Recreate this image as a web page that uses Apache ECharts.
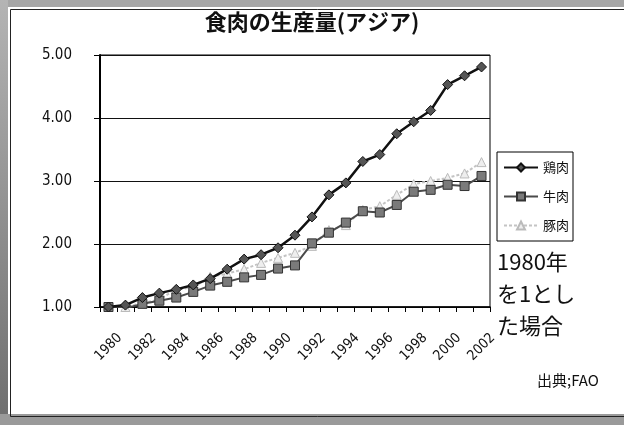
<!DOCTYPE html>
<html>
<head>
<meta charset="utf-8">
<script src="https://cdn.jsdelivr.net/npm/echarts@6/dist/echarts.min.js"></script>
<style>
  html, body { margin: 0; padding: 0; background: #fff; }
  #chart { width: 624px; height: 425px; }
</style>
</head>
<body>
<div id="chart"></div>
<script>
// 1980年を1とした指数
const years = ['1980','1981','1982','1983','1984','1985','1986','1987','1988','1989','1990','1991',
               '1992','1993','1994','1995','1996','1997','1998','1999','2000','2001','2002']
const chicken = [1.00,1.03,1.15,1.22,1.28,1.35,1.45,1.60,1.76,1.83,1.94,2.14,
                 2.43,2.78,2.97,3.31,3.42,3.75,3.94,4.12,4.53,4.67,4.81]
const beef = [1.00,0.98,1.05,1.10,1.15,1.24,1.34,1.40,1.47,1.51,1.61,1.66,
              2.01,2.18,2.34,2.52,2.50,2.62,2.83,2.86,2.94,2.92,3.08]
const pork = [1.00,1.00,1.06,1.12,1.28,1.31,1.48,1.53,1.60,1.70,1.78,1.86,
              1.97,2.22,2.30,2.54,2.60,2.78,2.95,3.00,3.05,3.12,3.30]
const yTicks = { min: 1, max: 5, step: 1 }

const numFont = 'Liberation Sans Narrow, DejaVu Sans Condensed, sans-serif'
const jpFont = 'Noto Sans CJK JP, sans-serif'

const chart = echarts.init(document.getElementById('chart'))

const option = {
  animation: false,
  backgroundColor: '#fff',
  title: {
    text: '食肉の生産量(アジア)',
    left: 'center',
    top: 6,
    textStyle: { fontFamily: jpFont, fontSize: 22, fontWeight: 'bold', color: '#111' }
  },
  legend: {
    orient: 'vertical',
    left: 497,
    top: 152,
    itemWidth: 34,
    itemHeight: 10,
    itemGap: 16,
    padding: [9, 4, 9, 6],
    borderColor: '#000',
    borderWidth: 1,
    textStyle: { fontFamily: jpFont, fontSize: 13, color: '#111' },
    data: ['鶏肉', '牛肉', '豚肉']
  },
  grid: { left: 100, right: 134, top: 55, bottom: 118, show: true, borderColor: '#000', borderWidth: 1 },
  xAxis: {
    type: 'category',
    data: years,
    boundaryGap: true,
    axisLine: { lineStyle: { color: '#000', width: 1.5 } },
    axisTick: { show: true, interval: 0, length: 5, lineStyle: { color: '#000' } },
    axisLabel: {
      interval: 1,
      rotate: 45,
      align: 'center',
      margin: 40,
      fontFamily: numFont,
      fontSize: 14,
      color: '#111'
    }
  },
  yAxis: {
    type: 'value',
    min: yTicks.min,
    max: yTicks.max,
    interval: yTicks.step,
    axisLine: { show: true, lineStyle: { color: '#000', width: 2 } },
    axisTick: { show: true, length: 6, lineStyle: { color: '#000' } },
    splitLine: { show: true, lineStyle: { color: '#111', width: 1 } },
    axisLabel: {
      margin: 28,
      fontFamily: numFont,
      fontSize: 15,
      color: '#111',
      formatter: v => v.toFixed(2)
    }
  },
  series: [
    {
      name: '鶏肉', type: 'line', data: chicken,
      symbol: 'diamond', symbolSize: 10,
      lineStyle: { color: '#111', width: 2.5 },
      itemStyle: { color: '#555', borderColor: '#111', borderWidth: 1 },
      z: 4
    },
    {
      name: '牛肉', type: 'line', data: beef,
      symbol: 'rect', symbolSize: 9,
      lineStyle: { color: '#4a4a4a', width: 2 },
      itemStyle: { color: '#7a7a7a', borderColor: '#333', borderWidth: 1 },
      z: 3
    },
    {
      name: '豚肉', type: 'line', data: pork,
      symbol: 'triangle', symbolSize: 9,
      lineStyle: { color: '#c4c4c4', width: 2, type: [3, 2] },
      itemStyle: { color: '#eee', borderColor: '#bbb', borderWidth: 1 },
      z: 2
    }
  ],
  graphic: [
    // 枠
    { type: 'rect', left: 0, top: 0, shape: { width: 624, height: 7 }, style: { fill: '#a6a6a6' }, silent: true },
    { type: 'rect', left: 0, top: 0, shape: { width: 8, height: 425 },
      style: { fill: new echarts.graphic.LinearGradient(0, 0, 0, 1, [
        { offset: 0, color: '#b4b4b4' }, { offset: 1, color: '#6e6e6e' }]) }, silent: true },
    { type: 'rect', left: 0, top: 414, shape: { width: 624, height: 11 }, style: { fill: '#9a9a9a' }, silent: true },
    { type: 'rect', left: 8, top: 7, shape: { width: 640, height: 407 }, style: { fill: 'none', stroke: '#222', lineWidth: 1 }, silent: true },
    {
      type: 'text', left: 497, top: 246,
      style: { text: '1980年\nを1とし\nた場合', fontFamily: jpFont, fontSize: 22, lineHeight: 32, fill: '#111' }
    },
    {
      type: 'text', left: 537, top: 373,
      style: { text: '出典;FAO', fontFamily: jpFont, fontSize: 15, fill: '#111' }
    }
  ]
}

chart.setOption(option)
window.addEventListener('resize', () => chart.resize())
</script>
</body>
</html>
